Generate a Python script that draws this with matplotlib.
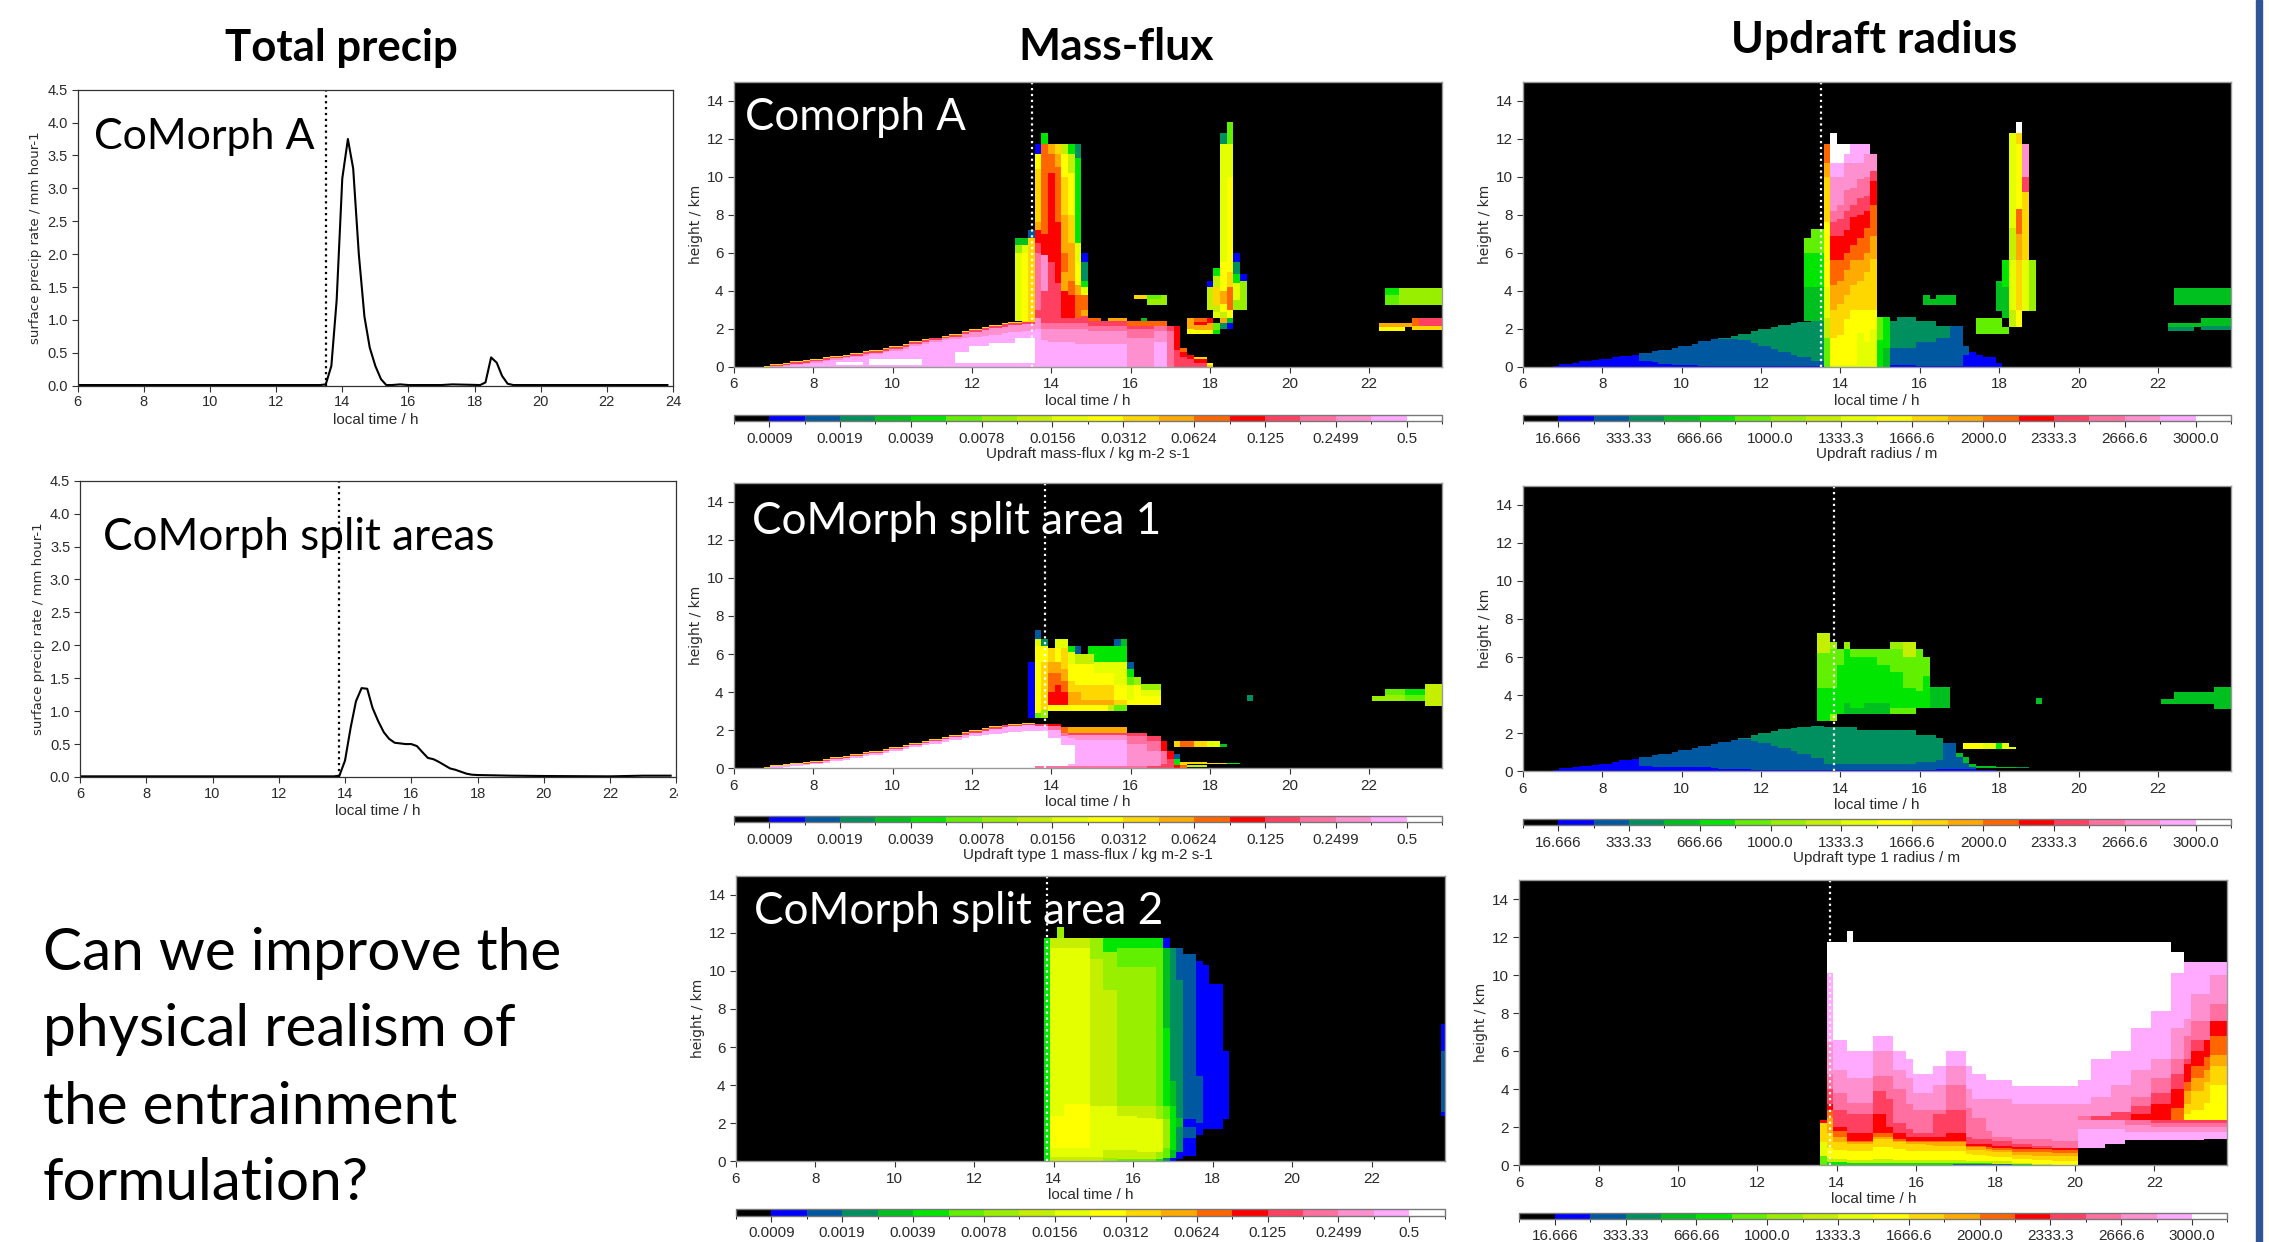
import matplotlib
matplotlib.use('agg')
import matplotlib.pyplot as plt
from matplotlib.colors import ListedColormap, BoundaryNorm
from matplotlib.patches import Rectangle
import numpy as np

W, H = 2269, 1242

# colour levels shared by all colorbars
level_colors = ['#000000', '#0000ff', '#0058a0', '#009060', '#00c020', '#00e600', '#60f000',
                '#98f000', '#c4f000', '#e4ff00', '#ffff00', '#ffd700', '#ffaa00', '#ff6600',
                '#ff0000', '#ff4060', '#ff70a0', '#ff90d0', '#ffaaff', '#ffffff']
flux_ticks = ['0.0009', '0.0019', '0.0039', '0.0078', '0.0156', '0.0312', '0.0624', '0.125', '0.2499', '0.5']
radius_ticks = ['16.666', '333.33', '666.66', '1000.0', '1333.3', '1666.6', '2000.0', '2333.3', '2666.6', '3000.0']

# total precip curves
precip_a_t = [6, 13.33, 13.5, 13.67, 13.83, 14.0, 14.17, 14.33, 14.5, 14.67, 14.83, 15.0, 15.17, 15.33, 15.5, 15.75, 16.0,
              17.0, 17.33, 18.17, 18.33, 18.5, 18.67, 18.83, 19.0, 19.17, 23.83]
precip_a_v = [0.01, 0.01, 0.02, 0.3, 1.3, 3.15, 3.75, 3.3, 2.0, 1.05, 0.58, 0.3, 0.1, 0.01, 0.01, 0.02, 0.01,
              0.01, 0.02, 0.01, 0.05, 0.43, 0.35, 0.15, 0.03, 0.01, 0.01]
precip_b_t = [6, 13.67, 13.83, 14.0, 14.17, 14.33, 14.5, 14.67, 14.83, 15.0, 15.17, 15.33, 15.5, 15.67, 15.83, 16.0, 16.17,
              16.33, 16.5, 16.67, 16.83, 17.0, 17.17, 17.33, 17.5, 17.67, 17.83, 18.0, 19.0, 20.0, 22.0, 23.0, 23.83]
precip_b_v = [0.01, 0.01, 0.02, 0.25, 0.75, 1.15, 1.35, 1.34, 1.05, 0.85, 0.68, 0.58, 0.52, 0.51, 0.5, 0.5, 0.47,
              0.38, 0.29, 0.27, 0.23, 0.18, 0.13, 0.11, 0.08, 0.05, 0.035, 0.03, 0.02, 0.015, 0.01, 0.02, 0.02]

# shallow cloud wedge, step edges in time and the top of each colour level
wedge_t = [6.75, 7.0, 7.25, 7.5, 7.75, 8.0, 8.25, 8.5, 8.75, 9.0, 9.25, 9.5, 9.75, 10.0, 10.25, 10.5, 10.75, 11.0,
           11.25, 11.5, 11.75, 12.0, 12.25, 12.5, 12.75, 13.0, 13.25, 13.58]
wedge_top = [.05, .15, .2, .3, .35, .42, .5, .58, .65, .75, .85, .9, 1.0, 1.1, 1.2, 1.35, 1.45, 1.55, 1.65, 1.75, 1.9,
             2.0, 2.1, 2.2, 2.3, 2.35, 2.4]
wedge_a15 = [0, .1, .15, .25, .3, .37, .45, .53, .6, .7, .8, .85, .95, 1.05, 1.15, 1.3, 1.4, 1.5, 1.6, 1.7, 1.85,
             1.95, 2.05, 2.15, 2.25, 2.3, 2.35]
wedge_a17 = [0, .05, .1, .17, .22, .3, .37, .45, .5, .6, .7, .75, .85, .95, 1.05, 1.2, 1.3, 1.4, 1.5, 1.6, 1.75,
             1.85, 1.95, 2.05, 2.1, 2.2, 2.25]
wedge_a18 = [0, 0, .05, .1, .15, .22, .3, .37, .43, .52, .62, .68, .78, .87, .97, 1.1, 1.2, 1.3, 1.4, 1.45, 1.55,
             1.6, 1.65, 1.7, 1.8, 1.85, 1.9]
wedge_b18 = [0, .08, .13, .2, .25, .32, .4, .48, .55, .65, .75, .8, .9, 1.0, 1.1, 1.25, 1.35, 1.45, 1.55, 1.65, 1.75,
             1.85, 1.95, 2.05, 2.15, 2.2, 2.25]
wedge_b19 = [0, 0, .03, .1, .15, .22, .3, .38, .45, .55, .65, .7, .8, .88, .98, 1.1, 1.2, 1.3, 1.4, 1.48, 1.58,
             1.68, 1.75, 1.8, 1.85, 1.9, 1.95]
wedge_r2 = [0, 0, 0, 0, 0, 0, 0, 0, 0, .65, .75, .8, .9, .95, 1.2, 1.35, 1.45, 1.45, 1.45, 1.4, 1.25, 1.1, .95, .8,
            .65, .5, .3]
wedge_r1 = [.05, .15, .2, .3, .35, .42, .5, .58, .65, .3, .25, .15, .12, .1, .08, .07, .05, .05, .05, .04, .04, .04,
            .03, .03, .03, .03, .03]
wedge_rb2 = [0, 0, 0, 0, 0, 0, 0, 0, 0, .4, .55, .7, .9, .95, 1.2, 1.35, 1.45, 1.55, 1.65, 1.7, 1.6, 1.5, 1.35, 1.2,
             1.05, .9, .7]
wedge_rb1 = [.05, .15, .2, .3, .35, .42, .5, .58, .65, .3, .25, .2, .2, .2, .18, .18, .15, .12, .1, .08, .06, .05,
             .05, .05, .04, .04, .04]

# columns: start, end, height edges, colour level of each layer
flux_a_cols = [
    (13.06, 13.22, [2.4, 6.0, 6.4, 6.8], [9, 7, 4]),
    (13.22, 13.39, [2.4, 6.0, 6.8], [10, 9]),
    (13.22, 13.39, [6.4, 6.8], [4]),
    (13.39, 13.56, [2.4, 6.8, 7.2], [11, 2]),
    (13.56, 13.73, [0, 2.0, 2.6, 3.0, 6.0, 6.5, 7.2, 7.6, 9.0, 10.4, 11.2, 11.75], [18, 17, 15, 16, 15, 14, 12, 11, 11, 10, 1]),
    (13.73, 13.9, [0, 1.4, 2.0, 2.3, 2.6, 4.0, 5.9, 7.0, 9.0, 11.75, 12.3], [18, 17, 16, 15, 15, 17, 14, 13, 13, 5]),
    (13.9, 14.07, [0, 1.3, 2.0, 2.3, 2.6, 4.5, 5.5, 10.2, 11.2, 11.75], [18, 17, 16, 15, 15, 15, 14, 13, 12]),
    (14.07, 14.23, [0, 1.3, 2.0, 2.3, 2.6, 4.4, 7.6, 10.5, 11.2, 11.75], [18, 17, 16, 15, 15, 14, 13, 12, 11]),
    (14.23, 14.4, [0, 1.3, 2.0, 2.3, 2.6, 4.0, 5.0, 6.0, 8.0, 10.0, 11.2, 11.75], [18, 17, 16, 15, 14, 12, 13, 12, 11, 10, 8]),
    (14.4, 14.56, [0, 1.3, 2.0, 2.3, 2.6, 3.0, 3.8, 4.5, 6.5, 8.0, 10.2, 11.2, 11.75], [18, 17, 16, 15, 14, 14, 13, 12, 11, 10, 8, 5]),
    (14.56, 14.73, [0, 1.2, 2.0, 2.3, 2.6, 3.8, 4.3, 5.5, 6.5, 11.0, 11.75], [18, 17, 16, 15, 13, 12, 10, 9, 5, 3]),
    (14.73, 14.9, [0, 1.2, 2.0, 2.3, 2.7, 3.0, 3.8, 3.9, 4.2, 4.5, 5.5, 6.0], [18, 17, 16, 15, 12, 13, 10, 9, 5, 3, 1]),
    (14.9, 15.22, [0, 1.2, 1.9, 2.15, 2.4, 2.6], [18, 17, 16, 15, 13]),
    (15.22, 15.35, [0, 1.2, 1.9, 2.15, 2.4], [18, 17, 16, 15]),
    (15.35, 16.0, [0, 1.2, 1.9, 2.15, 2.4, 2.6], [18, 17, 16, 15, 12]),
    (16.0, 16.65, [0, 1.5, 2.0, 2.15, 2.4], [17, 16, 15, 13]),
    (16.2, 16.4, [2.4, 2.6], [4]),
    (16.65, 16.95, [0, 1.3, 1.9, 2.15, 2.4], [18, 17, 16, 13]),
    (16.95, 17.1, [0, 1.9, 2.15], [16, 15]),
    (17.1, 17.25, [0, 0.9, 2.15], [15, 14]),
    (17.25, 17.4, [0, 0.5, 0.8, 1.0], [15, 14, 13]),
    (17.4, 17.56, [0, 0.4, 0.65], [15, 14]),
    (17.56, 17.9, [0, 0.2, 0.4, 0.5], [15, 14, 11]),
    (17.9, 18.06, [0, 0.1, 0.2], [11, 10]),
    (16.1, 16.4, [3.55, 3.8], [11]),
    (16.4, 16.7, [3.25, 3.55, 3.8], [7, 6]),
    (16.7, 17.0, [3.25, 3.8], [7]),
    (17.4, 17.56, [1.75, 2.0, 2.6], [10, 12]),
    (17.56, 17.9, [1.75, 1.95, 2.2, 2.35, 2.6], [10, 12, 14, 13]),
    (17.9, 18.06, [1.75, 1.95, 2.3, 2.6], [10, 12, 14]),
    (18.06, 18.22, [1.75, 1.95, 2.3], [5, 6]),
    (17.89, 18.06, [3.0, 4.2, 4.5], [8, 1]),
    (18.06, 18.22, [2.6, 2.9, 3.2, 4.2, 4.8, 5.2], [9, 8, 11, 8, 5]),
    (18.22, 18.39, [2.0, 2.3, 2.6, 2.9, 3.3, 4.0, 5.5, 11.75, 12.3], [3, 12, 8, 10, 12, 10, 9, 3]),
    (18.39, 18.56, [2.0, 2.3, 2.6, 3.0, 4.2, 5.0, 10.0, 11.75, 12.9], [1, 4, 10, 13, 11, 10, 9, 6]),
    (18.56, 18.73, [3.0, 3.5, 4.4, 4.9, 5.5, 6.0], [7, 9, 5, 3, 1]),
    (18.73, 18.9, [3.0, 4.5, 4.9], [7, 1]),
    (22.4, 22.75, [3.25, 3.8, 4.15], [6, 5]),
    (22.75, 23.84, [3.25, 3.6, 4.15], [7, 7]),
    (22.2, 22.85, [1.9, 2.1, 2.3], [10, 12]),
    (22.85, 23.05, [2.1, 2.3], [12]),
    (23.05, 23.84, [1.95, 2.15, 2.6], [11, 15]),
    (23.05, 23.25, [2.15, 2.6], [13]),
]

flux_a_white = [(8.6, 9.3, 0.1, 0.25), (9.4, 10.7, 0.12, 0.4), (11.6, 11.9, 0.2, 0.8), (11.9, 12.4, 0.2, 1.1),
                (12.4, 13.1, 0.2, 1.25), (13.1, 13.58, 0.2, 1.5)]

radius_a_cols = [
    (13.06, 13.22, [2.4, 4.2, 6.0, 6.8], [4, 5, 6]),
    (13.22, 13.56, [2.4, 4.2, 6.0, 7.25], [4, 5, 6]),
    (13.56, 13.73, [0, 1.5, 2.6, 4.2, 7.6, 10.0, 10.7, 11.75], [6, 8, 9, 10, 11, 12, 13]),
    (13.73, 13.9, [0, 0.1, 1.5, 3.0, 4.3, 5.6, 6.9, 7.6, 8.2, 10.0, 10.7, 11.75, 12.3], [9, 10, 11, 12, 13, 14, 15, 16, 17, 18, 19, 19]),
    (13.9, 14.07, [0, 0.1, 1.7, 3.3, 4.5, 5.6, 6.9, 7.8, 8.5, 10.0, 10.7, 11.75], [9, 10, 11, 12, 13, 14, 15, 16, 17, 18, 19]),
    (14.07, 14.23, [0, 0.1, 2.5, 3.8, 5.1, 6.0, 7.2, 8.2, 9.3, 10.7, 11.2, 11.75], [9, 10, 11, 12, 13, 14, 15, 16, 17, 18, 19]),
    (14.23, 14.4, [0, 0.1, 3.0, 4.3, 5.6, 6.4, 7.9, 8.5, 9.4, 10.7, 11.75], [9, 10, 11, 12, 13, 14, 15, 16, 17, 18]),
    (14.4, 14.56, [0, 1.8, 3.0, 4.5, 5.6, 6.8, 8.0, 8.9, 9.9, 10.7, 11.75], [9, 10, 11, 12, 13, 14, 15, 16, 17, 18]),
    (14.56, 14.73, [0, 1.3, 3.0, 5.0, 6.0, 7.3, 8.2, 9.0, 10.0, 11.2, 11.75], [9, 10, 11, 12, 13, 14, 15, 16, 17, 18]),
    (14.73, 14.9, [0, 0.3, 2.0, 3.0, 5.7, 6.9, 8.5, 9.8, 10.3, 11.2], [9, 9, 10, 11, 12, 13, 14, 15, 17]),
    (14.9, 15.06, [0, 1.4, 2.65], [5, 6]),
    (15.06, 15.22, [0, 1.0, 2.65], [4, 5]),
    (15.22, 15.35, [0, 0.1, 1.0, 2.4], [1, 2, 3]),
    (15.35, 15.9, [0, 0.08, 1.0, 2.65], [1, 2, 3]),
    (15.9, 16.2, [0, 0.05, 1.3, 2.4], [1, 2, 3]),
    (16.2, 16.4, [0, 0.05, 1.3, 2.4], [1, 2, 3]),
    (16.4, 17.1, [0, 0.05, 1.5, 2.15], [1, 2, 3]),
    (16.75, 17.1, [0, 0.05, 2.15], [1, 2]),
    (17.1, 17.25, [0, 0.65, 1.1], [1, 2]),
    (17.25, 17.4, [0, 0.8], [1]),
    (17.4, 17.56, [0, 0.65], [1]),
    (17.56, 17.9, [0, 0.5], [1]),
    (17.9, 18.06, [0, 0.2], [1]),
    (16.1, 16.4, [3.25, 3.55, 3.8], [4, 0]),
    (16.1, 16.25, [3.25, 3.8], [4]),
    (16.4, 17.0, [3.25, 3.8], [4]),
    (17.4, 17.56, [1.75, 2.6], [6]),
    (17.56, 18.06, [1.75, 2.6], [6]),
    (18.06, 18.22, [1.75, 2.1], [6]),
    (17.89, 18.06, [2.95, 4.5], [4]),
    (18.06, 18.22, [2.6, 4.2, 5.6], [4, 5]),
    (18.22, 18.39, [2.1, 3.0, 5.6, 7.3, 12.3], [8, 9, 8, 9]),
    (18.39, 18.56, [2.1, 3.0, 5.6, 7.0, 8.3, 9.0, 11.75, 12.3], [10, 11, 12, 13, 10, 10, 11]),
    (18.39, 18.56, [12.3, 12.9], [19]),
    (18.56, 18.73, [2.95, 5.6, 9.2, 10.0, 11.75], [9, 11, 15, 17]),
    (18.73, 18.9, [2.95, 5.6], [7]),
    (22.4, 23.84, [3.25, 4.15], [4]),
    (22.2, 22.85, [1.9, 2.1, 2.3], [3, 4]),
    (22.85, 23.05, [2.1, 2.3], [4]),
    (23.05, 23.84, [1.95, 2.15, 2.6], [3, 4]),
]

flux_b_cols = [
    (13.39, 13.56, [2.65, 5.6], [1]),
    (13.56, 13.73, [2.65, 2.9, 5.7, 6.4, 6.8, 7.25], [6, 10, 10, 9, 2]),
    (13.73, 13.9, [2.65, 3.05, 4.2, 5.6, 6.4, 6.8], [7, 11, 11, 10, 3]),
    (13.9, 14.07, [3.0, 3.3, 4.0, 5.0, 5.6, 6.3], [10, 14, 13, 12, 11]),
    (14.07, 14.23, [3.0, 3.3, 4.4, 5.0, 5.6, 6.3, 6.8], [10, 14, 13, 12, 10, 9]),
    (14.23, 14.4, [3.0, 3.3, 4.0, 4.6, 5.2, 6.3, 6.8], [10, 14, 13, 12, 11, 9]),
    (14.4, 14.56, [3.0, 3.3, 4.0, 4.6, 5.5, 6.1, 6.4], [10, 12, 11, 10, 9, 5]),
    (14.56, 14.73, [3.0, 3.3, 4.0, 4.4, 5.5, 6.0, 6.4], [10, 12, 11, 10, 8, 2]),
    (14.73, 14.9, [3.0, 3.3, 3.6, 4.4, 5.5, 6.0], [10, 12, 11, 10, 8]),
    (14.9, 15.06, [3.0, 3.3, 3.6, 4.4, 5.5, 6.0, 6.4], [10, 12, 11, 10, 8, 5]),
    (15.06, 15.4, [3.0, 3.3, 3.6, 4.4, 5.0, 5.6, 6.4], [10, 12, 11, 10, 9, 5]),
    (15.4, 15.56, [3.0, 3.3, 3.6, 4.4, 5.0, 5.6, 6.4], [8, 12, 11, 10, 9, 5]),
    (15.56, 15.72, [3.0, 3.3, 3.6, 4.4, 5.6, 6.4, 6.8], [6, 11, 10, 9, 5, 2]),
    (15.72, 15.9, [3.0, 3.3, 3.6, 4.4, 5.6, 6.4, 6.8], [6, 11, 10, 9, 5, 4]),
    (15.9, 16.07, [3.3, 3.6, 4.4, 4.8, 5.2, 5.6], [10, 9, 6, 5, 2]),
    (16.07, 16.23, [3.3, 4.4, 4.8], [10, 7]),
    (16.23, 16.7, [3.3, 3.8, 4.1, 4.45], [10, 9, 7]),
    (19.0, 19.15, [3.55, 3.85], [3]),
    (22.05, 22.4, [3.55, 3.8], [7]),
    (22.4, 22.9, [3.55, 3.85, 4.15], [7, 6]),
    (22.9, 23.4, [3.55, 3.85, 4.15], [6, 5]),
    (23.4, 23.84, [3.25, 4.45], [8]),
    (13.58, 13.9, [0, 0.1, 1.95, 2.2, 2.35], [16, 19, 18, 15]),
    (13.9, 14.2, [0, 0.1, 1.6, 2.0, 2.2, 2.35], [16, 19, 18, 16, 14]),
    (14.2, 14.4, [0, 0.1, 1.25, 1.7, 1.85, 2.15], [16, 19, 18, 16, 13]),
    (14.4, 14.55, [0, 0.1, 0.25, 1.2, 1.6, 1.75, 1.85, 2.15], [16, 18, 19, 18, 17, 15, 12]),
    (14.55, 15.9, [0, 0.1, 1.5, 1.75, 1.85, 2.15], [16, 18, 17, 15, 12]),
    (15.9, 16.0, [0, 0.1, 1.5, 1.75, 1.85], [16, 18, 17, 15]),
    (16.0, 16.5, [0, 0.1, 1.3, 1.7, 1.85], [16, 17, 16, 15]),
    (16.5, 16.7, [0, 0.1, 0.9, 1.45, 1.7], [15, 17, 16, 15]),
    (16.7, 16.9, [0, 0.2, 0.9, 1.45], [15, 16, 14]),
    (16.9, 17.07, [0, 0.5, 0.9], [15, 14]),
    (17.07, 17.23, [0, 0.15, 0.5, 0.75], [14, 5, 2]),
    (17.23, 17.5, [0, 0.15, 0.35], [13, 11]),
    (17.5, 18.0, [0.05, 0.15, 0.2, 0.35], [8, 0, 11]),
    (18.0, 18.4, [0.2, 0.3], [11]),
    (18.4, 18.75, [0.2, 0.3], [5]),
    (17.07, 17.23, [1.1, 1.45], [11]),
    (17.23, 17.56, [1.1, 1.45], [13]),
    (17.56, 17.9, [1.1, 1.45], [11]),
    (17.9, 18.2, [1.1, 1.45], [9]),
    (18.2, 18.4, [1.1, 1.3], [4]),
]

radius_b_cols = [
    (13.4, 13.73, [2.65, 4.4, 6.2, 7.25], [5, 6, 8]),
    (13.73, 13.9, [2.65, 3.0, 4.4, 6.4, 6.8], [7, 5, 6, 7]),
    (13.9, 14.07, [3.0, 3.6, 4.4, 5.6, 6.4], [5, 5, 5, 6]),
    (14.07, 14.23, [3.0, 3.6, 6.4, 6.8], [4, 5, 7]),
    (14.23, 14.56, [3.0, 3.3, 6.0, 6.4], [4, 5, 6]),
    (14.56, 14.9, [3.0, 3.6, 6.0, 6.4], [4, 5, 6]),
    (14.9, 15.2, [3.0, 3.6, 5.6, 6.4], [4, 5, 6]),
    (15.2, 15.56, [3.0, 3.3, 4.2, 5.2, 6.4, 6.8], [6, 5, 5, 6, 7]),
    (15.56, 15.9, [3.0, 3.3, 4.4, 5.0, 6.0, 6.8], [6, 5, 6, 6, 8]),
    (15.9, 16.07, [3.3, 4.2, 5.6, 6.4], [5, 6, 6]),
    (16.07, 16.23, [3.3, 4.4, 5.0, 6.0], [5, 5, 6]),
    (16.23, 16.7, [3.3, 4.45], [4]),
    (19.0, 19.15, [3.55, 3.85], [4]),
    (22.05, 22.4, [3.55, 3.8], [4]),
    (22.4, 23.4, [3.55, 4.15], [4]),
    (23.4, 23.84, [3.25, 4.45], [4]),
    (13.58, 14.23, [0, 0.05, 0.4, 2.35], [1, 2, 3]),
    (14.23, 14.4, [0, 0.05, 0.4, 2.35], [1, 2, 3]),
    (14.4, 16.0, [0, 0.05, 0.4, 2.15], [1, 2, 3]),
    (16.0, 16.4, [0, 0.05, 0.5, 1.9], [1, 2, 3]),
    (16.4, 16.55, [0, 0.1, 0.6, 1.75], [1, 2, 3]),
    (16.55, 16.9, [0, 0.1, 1.5], [1, 2]),
    (16.9, 17.07, [0, 0.1, 0.75, 0.95], [1, 2, 4]),
    (17.07, 17.23, [0, 0.1, 0.45, 0.75], [1, 2, 4]),
    (17.23, 17.5, [0, 0.1, 0.2, 0.4], [1, 2, 4]),
    (17.5, 18.0, [0, 0.05, 0.15, 0.3], [1, 0, 4]),
    (18.0, 18.4, [0.15, 0.25], [4]),
    (18.4, 18.75, [0.15, 0.25], [3]),
    (17.07, 17.56, [1.15, 1.5], [10]),
    (17.56, 17.9, [1.15, 1.5], [9]),
    (17.9, 18.06, [1.15, 1.5], [5]),
    (18.06, 18.22, [1.15, 1.5], [9]),
    (18.22, 18.4, [1.15, 1.3], [9]),
]

flux_c_cols = [
    (13.75, 13.87, [0, 11.75], [5]),
    (13.87, 14.0, [0, 0.2, 1.2, 2.9, 11.75], [7, 8, 9, 8]),
    (14.0, 14.15, [0, 0.2, 0.7, 2.4, 3.0, 11.2, 11.75], [8, 9, 10, 9, 9, 8]),
    (14.15, 14.3, [0, 0.2, 0.7, 2.4, 3.0, 11.2, 11.75, 12.3], [8, 9, 10, 9, 9, 8, 7]),
    (14.3, 14.85, [0, 0.2, 0.7, 2.4, 3.0, 11.2, 11.75], [8, 9, 10, 10, 9, 8]),
    (14.85, 15.2, [0, 0.2, 1.0, 2.4, 2.9, 9.5, 10.6, 11.75], [8, 9, 9, 9, 8, 8, 7]),
    (15.2, 15.6, [0, 0.15, 0.6, 2.3, 2.9, 9.0, 11.0, 11.75], [7, 8, 9, 9, 8, 7, 5]),
    (15.6, 16.1, [0, 0.1, 0.6, 2.4, 2.9, 8.0, 10.2, 11.2, 11.75], [6, 8, 9, 8, 7, 7, 6, 5]),
    (16.1, 16.6, [0, 0.1, 0.5, 2.3, 2.9, 3.8, 10.2, 11.2, 11.75], [6, 8, 9, 8, 7, 7, 6, 5]),
    (16.6, 16.8, [0, 0.1, 0.5, 2.2, 2.9, 10.2, 11.2, 11.75], [5, 7, 9, 7, 6, 6, 5]),
    (16.8, 17.0, [0, 0.15, 0.7, 2.2, 2.9, 4.0, 7.0, 11.2, 11.75], [3, 6, 7, 6, 5, 5, 4, 1]),
    (17.0, 17.15, [0, 0.15, 0.6, 2.2, 2.9, 4.2, 11.2], [1, 4, 5, 5, 4, 3]),
    (17.15, 17.33, [0.1, 0.5, 1.8, 2.3, 5.0, 9.5, 11.2], [1, 3, 4, 3, 3, 2]),
    (17.33, 17.65, [0.3, 1.2, 1.8, 2.2, 4.0, 10.9], [1, 2, 1, 2, 2]),
    (17.65, 17.8, [1.4, 2.0, 4.5, 10.5], [1, 2, 1]),
    (17.8, 18.0, [1.7, 10.3], [1]),
    (18.0, 18.2, [1.7, 2.0, 9.3], [1, 1]),
    (18.2, 18.4, [2.2, 3.3, 5.8], [1, 1]),
    (23.75, 23.84, [2.4, 2.6, 5.8, 7.2], [1, 2, 1]),
]

# updraft radius, bottom right panel
rc_t = [13.75, 14.0, 14.25, 14.75, 15.0, 15.25, 15.5, 15.75, 16.0, 16.25, 16.5, 16.75, 17.0, 17.25, 17.5, 17.75, 18.0,
        18.5, 19.0, 19.5, 20.1, 20.5, 21.0, 21.5, 22.0, 22.5, 22.75, 23.0, 23.25, 23.5, 23.84]
rc_19 = [11.75, 11.75, 11.75, 11.75, 11.75, 11.75, 11.75, 11.75, 11.75, 11.75, 11.75, 11.75, 11.75, 11.75, 11.75, 11.75,
         11.75, 11.75, 11.75, 11.75, 11.75, 11.75, 11.75, 11.75, 11.75, 11.2, 10.7, 10.7, 10.7, 10.7]
rc_18 = [10.1, 6.6, 6.0, 6.0, 6.8, 6.8, 6.0, 5.6, 4.8, 4.8, 5.2, 6.0, 6.0, 5.2, 4.8, 4.5, 4.5, 4.15, 4.15, 4.15, 4.5, 5.6,
         6.0, 7.2, 8.1, 10.1, 10.7, 10.7, 10.7, 10.7]
rc_17 = [6.5, 5.0, 4.6, 4.6, 6.0, 6.0, 5.0, 4.6, 3.8, 3.8, 4.2, 5.2, 5.2, 4.0, 3.5, 3.5, 3.5, 3.2, 3.2, 3.2, 3.2, 3.6, 4.2,
         5.0, 5.6, 7.2, 7.7, 9.0, 9.0, 10.0]
rc_16 = [4.8, 3.8, 3.3, 3.3, 4.7, 4.7, 4.0, 3.2, 2.9, 2.9, 2.9, 4.2, 4.2, 3.0, 2.5, 1.8, 1.5, 1.4, 1.4, 1.3, 2.6, 2.6, 2.6,
         3.6, 4.6, 5.6, 6.8, 7.6, 7.6, 8.5]
rc_15 = [4.0, 2.9, 2.7, 2.7, 3.9, 3.5, 2.2, 1.9, 1.7, 1.7, 2.7, 2.9, 2.9, 1.5, 1.4, 1.4, 1.3, 1.1, 1.0, 0.9, 0.9, 2.6, 2.8,
         3.1, 3.8, 4.8, 5.6, 6.6, 6.6, 7.6]
rc_14 = [3.2, 2.0, 1.7, 1.7, 2.7, 2.0, 1.7, 1.5, 1.5, 1.5, 1.5, 1.7, 1.7, 1.1, 1.1, 1.1, 1.0, 0.95, 0.9, 0.9, 0.9, 0.9, 0.9,
         2.7, 3.2, 4.0, 5.3, 6.0, 6.6, 7.6]
rc_13 = [2.9, 1.8, 1.3, 1.3, 1.7, 1.7, 1.4, 1.3, 1.3, 1.3, 1.3, 1.3, 1.3, 1.0, 1.0, 0.95, 0.9, 0.85, 0.85, 0.8, 0, 0, 0, 0,
         0, 3.0, 4.4, 5.2, 5.7, 6.8]
rc_12 = [2.5, 1.5, 1.25, 1.25, 1.5, 1.5, 1.3, 1.2, 1.2, 1.2, 1.2, 1.2, 1.2, 0.95, 0.95, 0.85, 0.8, 0.7, 0.7, 0.65, 0, 0, 0,
         0, 0, 2.4, 3.9, 4.6, 5.0, 5.8]
rc_11 = [1.7, 1.2, 1.1, 1.1, 1.4, 1.4, 1.2, 1.1, 1.1, 1.05, 1.0, 1.0, 1.0, 0.8, 0.8, 0.75, 0.7, 0.55, 0.5, 0.5, 0, 0, 0, 0,
         0, 0, 3.2, 3.9, 4.4, 5.2]
rc_10 = [0.9, 0.8, 0.75, 0.75, 0.95, 0.95, 0.85, 0.75, 0.75, 0.75, 0.75, 0.75, 0.75, 0.6, 0.55, 0.5, 0.45, 0.35, 0.3, 0.25,
         0, 0, 0, 0, 0, 0, 2.7, 2.9, 3.3, 4.2]
rc_8 = [0.4, 0.35, 0.3, 0.3, 0.35, 0.35, 0.3, 0.3, 0.3, 0.3, 0.3, 0.3, 0.3, 0.25, 0.25, 0.2, 0.2, 0.12, 0.05, 0, 0, 0, 0, 0,
        0, 0, 0, 0, 0, 0]
rc_5 = [0.15, 0.15, 0.12, 0.12, 0.12, 0.12, 0.12, 0.12, 0.12, 0.12, 0.12, 0.1, 0.1, 0.1, 0.1, 0.08, 0.05, 0.03, 0, 0, 0, 0,
        0, 0, 0, 0, 0, 0, 0, 0]
rc_cols = [
    (13.58, 13.75, [0, 0.5, 1.2, 2.2, 2.4], [6, 9, 11, 14]),
    (16.9, 18.4, [0, 0.04], [2]),
    (20.1, 20.7, [0, 0.9, 1.9, 2.4], [0, 18, 17]),
    (20.7, 21.3, [0, 1.1, 1.9, 2.4], [0, 18, 17]),
    (21.3, 22.0, [0, 1.35, 1.75, 2.1, 2.4], [0, 18, 17, 16]),
    (22.0, 23.2, [0, 1.35, 1.75, 2.0, 2.2, 2.4], [0, 18, 17, 16, 15]),
    (23.2, 23.84, [0, 1.4, 1.75, 2.0, 2.2, 2.4], [0, 18, 17, 16, 15]),
]


def paint(grid, cols):
    # fill the colour level grid from (start, end, height edges, levels) columns
    for t0, t1, edges, levels in cols:
        it = (tc >= t0) & (tc < t1)
        for j, lev in enumerate(levels):
            iz = (zc >= edges[j]) & (zc < edges[j + 1])
            grid[np.ix_(iz, it)] = lev


def paint_tops(grid, t_edges, tops, level):
    # fill from the ground up to a stepped top height
    for i, top in enumerate(tops):
        it = (tc >= t_edges[i]) & (tc < t_edges[i + 1])
        grid[np.ix_(zc < top, it)] = level


def px_axes(x0, x1, y0, y1, **kw):
    return fig.add_axes([x0 / W, 1 - y1 / H, (x1 - x0) / W, (y1 - y0) / H], **kw)


t_edges = 6 - 1 / 12 + np.arange(109) / 6
tc = 0.5 * (t_edges[1:] + t_edges[:-1])
z_edges = np.arange(0, 15.01, 0.05)
zc = 0.5 * (z_edges[1:] + z_edges[:-1])

flux_a = np.zeros((len(zc), len(tc)))
paint_tops(flux_a, wedge_t, wedge_top, 11)
paint_tops(flux_a, wedge_t, wedge_a15, 15)
paint_tops(flux_a, wedge_t, wedge_a17, 17)
paint_tops(flux_a, wedge_t, wedge_a18, 18)
for t0, t1, z0, z1 in flux_a_white:
    paint(flux_a, [(t0, t1, [z0, z1], [19])])
paint(flux_a, flux_a_cols)

radius_a = np.zeros((len(zc), len(tc)))
paint_tops(radius_a, wedge_t[:10], wedge_top[:9], 1)
paint_tops(radius_a, wedge_t[9:17], wedge_top[9:16], 2)
paint_tops(radius_a, wedge_t[16:], wedge_top[16:], 3)
paint_tops(radius_a, wedge_t, wedge_r2, 2)
paint_tops(radius_a, wedge_t, wedge_r1, 1)
paint(radius_a, radius_a_cols)

flux_b = np.zeros((len(zc), len(tc)))
paint_tops(flux_b, wedge_t, wedge_top, 11)
paint_tops(flux_b, wedge_t, wedge_a15, 15)
paint_tops(flux_b, wedge_t, wedge_b18, 18)
paint_tops(flux_b, wedge_t, wedge_b19, 19)
paint(flux_b, flux_b_cols)

radius_b = np.zeros((len(zc), len(tc)))
paint_tops(radius_b, wedge_t[:10], wedge_top[:9], 1)
paint_tops(radius_b, wedge_t[9:19], wedge_top[9:18], 2)
paint_tops(radius_b, wedge_t[18:], wedge_top[18:], 3)
paint_tops(radius_b, wedge_t, wedge_rb2, 2)
paint_tops(radius_b, wedge_t, wedge_rb1, 1)
paint(radius_b, radius_b_cols)

flux_c = np.zeros((len(zc), len(tc)))
paint(flux_c, flux_c_cols)

radius_c = np.zeros((len(zc), len(tc)))
for tops, lev in [(rc_19, 19), (rc_18, 18), (rc_17, 17), (rc_16, 16), (rc_15, 15), (rc_14, 14), (rc_13, 13),
                  (rc_12, 12), (rc_11, 11), (rc_10, 10), (rc_8, 8), (rc_5, 5)]:
    paint_tops(radius_c, rc_t, tops, lev)
paint(radius_c, rc_cols)
paint(radius_c, [(14.2, 14.35, [11.75, 12.3], [19])])

cmap = ListedColormap(level_colors)
norm = BoundaryNorm(np.arange(21), 20)

fig = plt.figure(figsize=(W / 100, H / 100), dpi=100)
SMALL = 'Liberation Sans'
TXT = '#2a2a2a'


def heat_panel(grid, x0, x1, y0, y1, cb_y0, cb_y1, onset, ticklabels, cb_label, ylab_dx=31):
    ax = px_axes(x0, x1, y0, y1)
    ax.pcolormesh(t_edges, z_edges, grid, cmap=cmap, norm=norm, shading='flat', rasterized=True)
    ax.axvline(onset, color='white', linestyle=':', linewidth=1.6)
    ax.set_xlim(6, 23.84)
    ax.set_ylim(0, 15)
    ax.set_xticks(range(6, 23, 2))
    ax.set_yticks(range(0, 15, 2))
    ax.tick_params(labelsize=11, labelcolor=TXT, length=4, width=0.8, pad=3.4, color='#333333')
    for lab in ax.get_xticklabels() + ax.get_yticklabels():
        lab.set_family(SMALL)
    ax.set_xlabel('local time / h', fontsize=11, family=SMALL, color=TXT, va='center')
    ax.xaxis.set_label_coords(0.5, -34 / (y1 - y0))
    ax.set_ylabel('height / km', fontsize=10, color=TXT)
    ax.yaxis.set_label_coords(-ylab_dx / (x1 - x0), 0.5)
    for s in ax.spines.values():
        s.set_color('#999999')
        s.set_linewidth(1.0)

    cax = px_axes(x0, x1, cb_y0, cb_y1)
    sm = plt.cm.ScalarMappable(norm=norm, cmap=cmap)
    cb = fig.colorbar(sm, cax=cax, orientation='horizontal', ticks=np.arange(1, 20, 2))
    cb.set_ticklabels(ticklabels)
    cb.ax.tick_params(labelsize=11, labelcolor=TXT, length=4, width=0.8, pad=3.4, color='#333333')
    for lab in cax.get_xticklabels():
        lab.set_family(SMALL)
    cb.outline.set_edgecolor('#777777')
    cb.outline.set_linewidth(1.0)
    if cb_label:
        cb.set_label(cb_label, fontsize=11, family=SMALL, color=TXT, va='center')
        cax.xaxis.set_label_coords(0.5, -33 / (cb_y1 - cb_y0))
    return ax


def precip_panel(t, v, x0, x1, y0, y1, onset, ylab_dx):
    ax = px_axes(x0, x1, y0, y1)
    ax.plot(t, v, color='black', linewidth=1.5)
    ax.axvline(onset, color='black', linestyle=':', linewidth=1.6)
    ax.set_xlim(6, 24)
    ax.set_ylim(0, 4.5)
    ax.set_xticks(range(6, 25, 2))
    ax.set_yticks(np.arange(0, 4.6, 0.5))
    ax.tick_params(labelsize=10.5, labelcolor=TXT, length=4, width=0.8, pad=3, color='#333333')
    for lab in ax.get_xticklabels() + ax.get_yticklabels():
        lab.set_family(SMALL)
    ax.set_xlabel('local time / h', fontsize=11, family=SMALL, color=TXT, va='center')
    ax.xaxis.set_label_coords(0.5, -34 / (y1 - y0))
    ax.set_ylabel('surface precip rate / mm hour-1', fontsize=9.5, color=TXT)
    ax.yaxis.set_label_coords(-ylab_dx / (x1 - x0), 0.5)
    for s in ax.spines.values():
        s.set_color('#333333')
        s.set_linewidth(0.9)
    return ax


precip_panel(precip_a_t, precip_a_v, 77.7, 673, 89.7, 385.7, 13.5, 36)
precip_panel(precip_b_t, precip_b_v, 80, 676.3, 480.7, 777, 13.83, 35)

heat_panel(flux_a, 733.8, 1442, 81.7, 367, 415, 421.3, 13.5, flux_ticks, 'Updraft mass-flux / kg m-2 s-1')
heat_panel(radius_a, 1522.8, 2231, 81.7, 367, 415, 421.3, 13.5, radius_ticks, 'Updraft radius / m')
heat_panel(flux_b, 733.8, 1442, 482.7, 768.3, 816, 822.3, 13.83, flux_ticks, 'Updraft type 1 mass-flux / kg m-2 s-1')
heat_panel(radius_b, 1522.8, 2231, 485.7, 771.3, 819, 825.3, 13.83, radius_ticks, 'Updraft type 1 radius / m')
heat_panel(flux_c, 735.8, 1444.8, 875.7, 1161.3, 1209, 1215.7, 13.83, flux_ticks, None)
heat_panel(radius_c, 1519.3, 2227.3, 880, 1165.3, 1212.7, 1219, 13.83, radius_ticks, None)


def ftext(x, y, s, **kw):
    fig.text(x / W, 1 - y / H, s, va='center', **kw)


# slide headings and overlaid text
ftext(341, 48, 'Total precip', ha='center', family='Lato', weight='bold', fontsize=31.5, color='black')
ftext(1116, 47, 'Mass-flux', ha='center', family='Lato', weight='bold', fontsize=32, color='black')
ftext(1874, 40, 'Updraft radius', ha='center', family='Lato', weight='bold', fontsize=32, color='black')

ftext(94, 137, 'CoMorph A', ha='left', family='Lato', fontsize=31, color='black')
ftext(103, 538, 'CoMorph split areas', ha='left', family='Lato', fontsize=31.8, color='black')
ftext(745, 117, 'Comorph A', ha='left', family='Lato', fontsize=31.5, color='white')
ftext(752, 522, 'CoMorph split area 1', ha='left', family='Lato', fontsize=31.8, color='white')
ftext(754, 911, 'CoMorph split area 2', ha='left', family='Lato', fontsize=31.8, color='white')

for yy, line in zip([953, 1030, 1107, 1183], ['Can we improve the', 'physical realism of', 'the entrainment', 'formulation?']):
    ftext(43, yy, line, ha='left', family='Lato', fontsize=42.2, color='black')

# blue slide edge, and the crop of the pasted left panel
fig.add_artist(Rectangle((2256 / W, 0), 6 / W, 1, transform=fig.transFigure, color='#2f5597', zorder=5))
fig.add_artist(Rectangle((678 / W, 1 - 800 / H), 6 / W, 30 / H, transform=fig.transFigure, color='white', zorder=5))

fig.savefig('out.png', dpi=100)
